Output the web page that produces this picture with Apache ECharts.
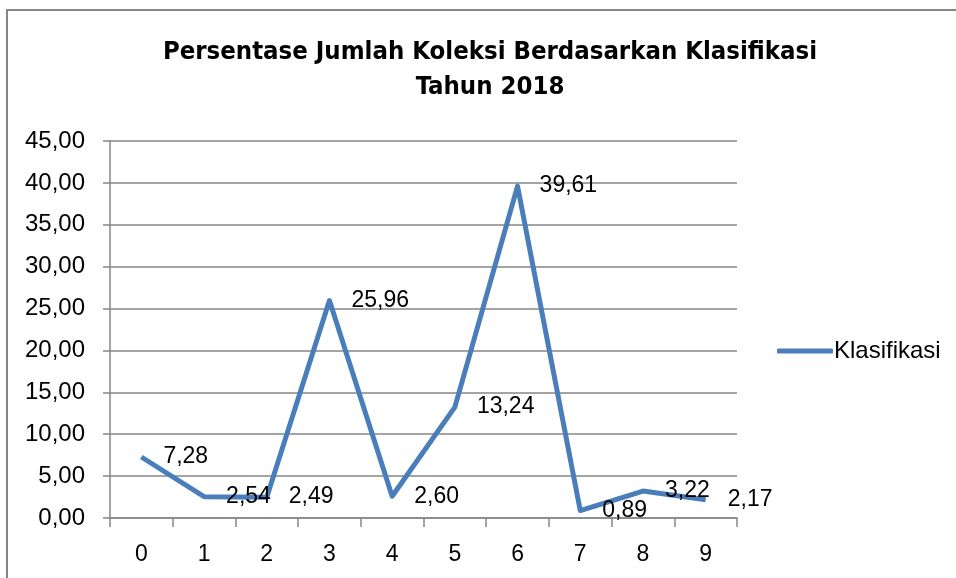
<!DOCTYPE html>
<html>
<head>
<meta charset="utf-8">
<script src="https://cdn.jsdelivr.net/npm/echarts@6/dist/echarts.min.js"></script>
<style>
html,body{margin:0;padding:0;background:#fff;}
#chart{width:956px;height:578px;}
</style>
</head>
<body>
<div id="chart"></div>
<script>
var categories = ['0','1','2','3','4','5','6','7','8','9'];
var values = [7.28, 2.54, 2.49, 25.96, 2.60, 13.24, 39.61, 0.89, 3.22, 2.17];
var seriesName = 'Klasifikasi';
var titleText = 'Persentase Jumlah Koleksi Berdasarkan Klasifikasi\nTahun 2018';

var chart = echarts.init(document.getElementById('chart'));
var fmt = function (v) { return Number(v).toFixed(2).replace('.', ','); };
chart.setOption({
  animation: false,
  backgroundColor: '#fff',
  graphic: [{
    type: 'rect',
    shape: { x: 7, y: 10, width: 1000, height: 620 },
    style: { fill: 'none', stroke: '#868686', lineWidth: 2 },
    silent: true
  }],
  title: {
    text: titleText,
    left: 485,
    top: 30,
    textAlign: 'center',
    textStyle: {
      fontFamily: '"Liberation Sans Narrow", "DejaVu Sans Condensed", sans-serif',
      fontWeight: 'bold',
      fontSize: 25.5,
      lineHeight: 35,
      color: '#000'
    }
  },
  legend: {
    data: [{ name: seriesName, icon: 'roundRect' }],
    left: 772,
    top: 334,
    itemWidth: 56,
    itemHeight: 5,
    itemGap: 5,
    textStyle: { fontFamily: '"Liberation Sans", Arial, sans-serif', fontSize: 24, color: '#000', padding: [0, 0, 0, -4] }
  },
  grid: { left: 110, right: 219, top: 141, bottom: 60, containLabel: false },
  xAxis: {
    type: 'category',
    data: categories,
    boundaryGap: true,
    axisLine: { lineStyle: { color: '#868686', width: 1.5 } },
    axisTick: { show: true, length: 9, lineStyle: { color: '#868686', width: 1.5 } },
    axisLabel: { margin: 25, color: '#000', fontSize: 23, fontFamily: '"Liberation Sans", Arial, sans-serif' }
  },
  yAxis: {
    type: 'value',
    min: 0,
    max: 45,
    interval: 5,
    axisLine: { show: true, lineStyle: { color: '#868686', width: 1.5 } },
    axisTick: { show: true, length: 7, lineStyle: { color: '#868686', width: 1.5 } },
    splitLine: { show: true, lineStyle: { color: '#868686', width: 1.5 } },
    axisLabel: { margin: 25, color: '#000', fontSize: 24, fontFamily: '"Liberation Sans", Arial, sans-serif', formatter: fmt }
  },
  series: [{
    name: seriesName,
    type: 'line',
    data: values,
    symbol: 'circle',
    symbolSize: 0.1,
    showSymbol: true,
    itemStyle: { color: '#4A7EBB' },
    lineStyle: { color: '#4A7EBB', width: 5, join: 'round' },
    label: {
      show: true,
      position: 'right',
      distance: 22,
      color: '#000',
      fontSize: 23,
      fontFamily: '"Liberation Sans", Arial, sans-serif',
      formatter: function (p) { return fmt(p.value); }
    }
  }]
});
</script>
</body>
</html>
